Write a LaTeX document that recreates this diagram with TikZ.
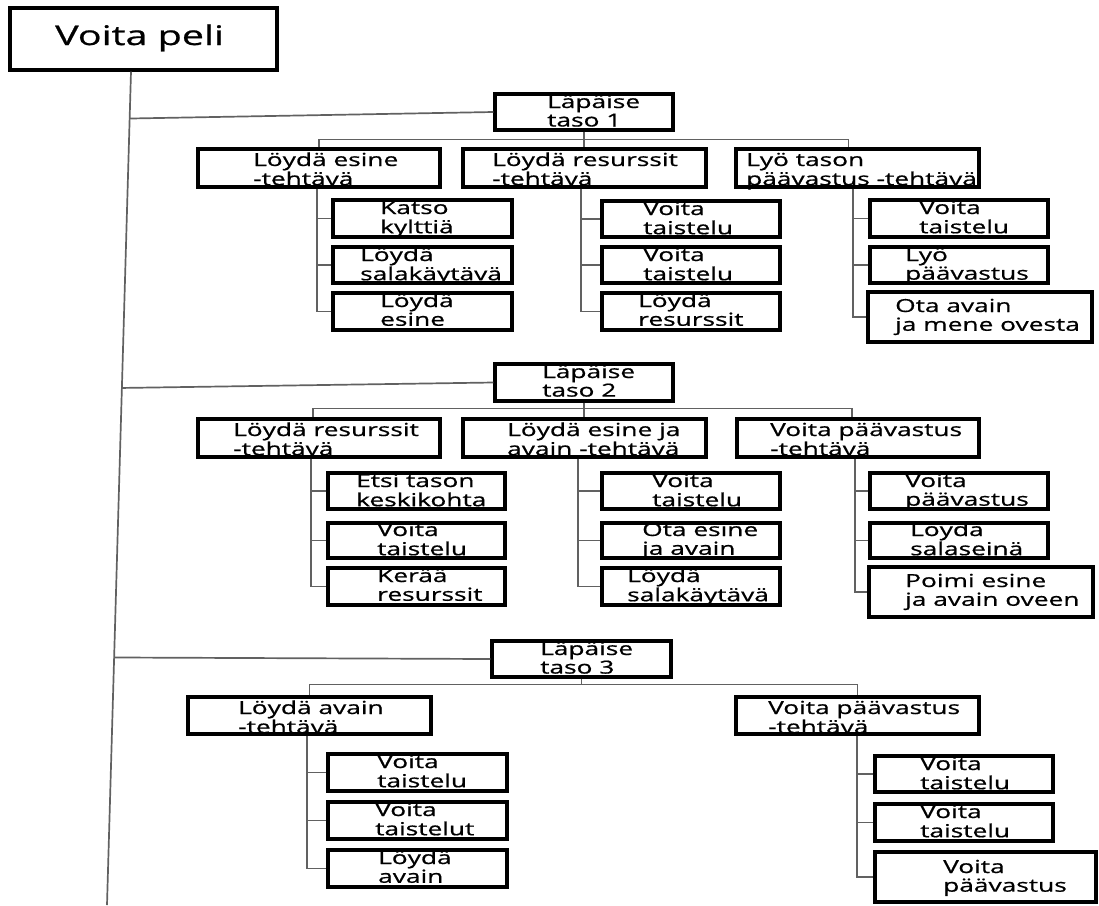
\documentclass[tikz,border=0pt]{standalone}
\usepackage{fontspec}
\setmainfont{Open Sans}[FakeStretch=1.46, FakeBold=0.8]
\usetikzlibrary{calc}
\tikzset{
  box/.style={draw=black, line width=3.2pt, inner sep=0pt},
  txt/.style={inner sep=0pt, font=\fontsize{18}{18.5}\selectfont},
  conn/.style={draw=black!62, line width=1.7pt},
}
% name, x1, y1, x2, y2, indent, first-baseline offset, text
\newcommand\bx[8]{%
  \node[box, minimum width={(#4-#2)*1pt}, minimum height={(#5-#3)*1pt}] (#1) at ({(#2+#4)/2},{(#3+#5)/2}) {};
  \node[txt, anchor=base west] (#1t) at ({#2+#6},{#3+#7}) {\begin{tabular}[t]{@{}l@{}}#8\end{tabular}};
}
% task, spine shift, sub1, sub2, sub3
\newcommand\spine[5]{%
  \coordinate (#1s) at ([xshift=#2pt]#1.south);
  \draw[conn] (#1s) |- (#5.west);
  \draw[conn] (#3.west) -- (#3.west -| #1s);
  \draw[conn] (#4.west) -- (#4.west -| #1s);
}
\begin{document}
\begin{tikzpicture}[x=1pt, y=-1pt]
\useasboundingbox (0,0) rectangle (1099,905);
% root
\node[box, minimum width=267pt, minimum height=62pt] (root) at (143.5,39) {};
\node[inner sep=0pt, anchor=base west, font=\fontsize{27}{30}\selectfont] (roott) at (55,45) {Voita peli};

% level 1
\bx{L1}{495}{94}{673}{130}{52}{14}{Läpäise\\taso 1}
\bx{A}{198}{149}{440}{187}{55}{17}{Löydä esine\\-tehtävä}
\bx{B}{463}{149}{706}{187}{29}{17}{Löydä resurssit\\-tehtävä}
\bx{C}{736}{149}{979}{187}{10}{17}{Lyö tason\\päävastus -tehtävä}
\bx{A1}{333}{200}{512}{237}{47}{14}{Katso\\kylttiä}
\bx{A2}{333}{247}{512}{283}{27}{14}{Löydä\\salakäytävä}
\bx{A3}{333}{293}{512}{330}{47}{14}{Löydä\\esine}
\bx{B1}{602}{201}{780}{237}{41}{14}{Voita\\taistelu}
\bx{B2}{602}{247}{780}{283}{41}{14}{Voita\\taistelu}
\bx{B3}{602}{293}{780}{330}{36}{14}{Löydä\\resurssit}
\bx{C1}{870}{200}{1048}{237}{49}{14}{Voita\\taistelu}
\bx{C2}{870}{247}{1048}{283}{35}{14}{Lyö\\päävastus}
\bx{C3}{868}{292}{1092}{342}{27}{20}{Ota avain\\ja mene ovesta}

% level 2
\bx{L2}{495}{364}{673}{401}{47}{14}{Läpäise\\taso 2}
\bx{D}{198}{419}{440}{457}{35}{17}{Löydä resurssit\\-tehtävä}
\bx{E}{463}{419}{706}{457}{44}{17}{Löydä esine ja\\avain -tehtävä}
\bx{F}{737}{419}{979}{457}{33}{17}{Voita päävastus\\-tehtävä}
\bx{D1}{328}{473}{505}{509}{28}{14}{Etsi tason\\keskikohta}
\bx{D2}{328}{523}{505}{558}{49}{13}{Voita\\taistelu}
\bx{D3}{328}{568}{505}{605}{49}{14}{Kerää\\resurssit}
\bx{E1}{602}{473}{780}{509}{50}{14}{Voita\\taistelu}
\bx{E2}{602}{523}{780}{558}{40}{13}{Ota esine\\ja avain}
\bx{E3}{602}{568}{780}{605}{25}{14}{Löydä\\salakäytävä}
\bx{F1}{870}{473}{1048}{509}{35}{14}{Voita\\päävastus}
\bx{F2}{870}{523}{1048}{558}{40}{13}{Löydä\\salaseinä}
\bx{F3}{869}{567}{1093}{617}{36}{20}{Poimi esine\\ja avain oveen}

% level 3
\bx{L3}{492}{641}{671}{677}{48}{14}{Läpäise\\taso 3}
\bx{G}{188}{697}{431}{734}{50}{17}{Löydä avain\\-tehtävä}
\bx{H}{736}{697}{979}{734}{32}{17}{Voita päävastus\\-tehtävä}
\bx{G1}{328}{754}{507}{791}{49}{14}{Voita\\taistelu}
\bx{G2}{328}{802}{507}{839}{47}{14}{Voita\\taistelut}
\bx{G3}{328}{850}{507}{887}{50}{14}{Löydä\\avain}
\bx{H1}{875}{756}{1053}{792}{45}{14}{Voita\\taistelu}
\bx{H2}{875}{804}{1053}{841}{45}{14}{Voita\\taistelu}
\bx{H3}{875}{852}{1096}{902}{68}{21}{Voita\\päävastus}

% main spine
\coordinate (mtop) at ([xshift=-12.5pt]root.south);
\coordinate (mbot) at (107,905);
\draw[conn] (mtop) -- (mbot);
\draw[conn] ($(mtop)!0.0563!(mbot)$) -- (L1.west);
\draw[conn] ($(mtop)!0.3796!(mbot)$) -- (L2.west);
\draw[conn] ($(mtop)!0.703!(mbot)$) -- (L3.west);

% buses
\draw[conn] (L1.south) -- (L1.south |- B.north);
\draw[conn] (A.north) -- ++(0,-8) -| ([xshift=-9pt]C.north);
\draw[conn] (L2.south) -- (L2.south |- E.north);
\draw[conn] ([xshift=-6pt]D.north) -- ++(0,-9) -| ([xshift=-6pt]F.north);
\coordinate (bus3) at ([yshift=11pt]G.north);
\draw[conn] (L3.south) -- (L3.south |- bus3);
\draw[conn] (G.north) -- (bus3) -| (H.north);

% spines
\spine{A}{-2}{A1}{A2}{A3}
\spine{B}{-3.5}{B1}{B2}{B3}
\spine{C}{-4.5}{C1}{C2}{C3}
\spine{D}{-8}{D1}{D2}{D3}
\spine{E}{-6.5}{E1}{E2}{E3}
\spine{F}{-3}{F1}{F2}{F3}
\spine{G}{-2.5}{G1}{G2}{G3}
\spine{H}{-0.5}{H1}{H2}{H3}
\end{tikzpicture}
\end{document}
